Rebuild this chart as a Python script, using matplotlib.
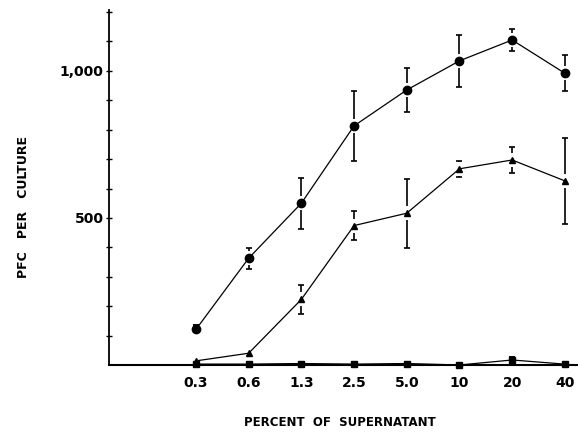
import numpy as np
from matplotlib import pyplot as plt

# percent of supernatant (categorical x)
doses = ["0.3", "0.6", "1.3", "2.5", "5.0", "10", "20", "40"]

# PFC per culture
circle_y = [121, 363, 550, 813, 935, 1034, 1105, 992]
circle_err = [15, 35, 87, 120, 75, 88, 38, 62]

tri_y = [14, 40, 223, 474, 516, 667, 697, 626]
tri_err = [0, 0, 50, 50, 117, 27, 43, 145]

square_y = [3, 3, 5, 3, 5, 0, 17, 3]
square_err = [0, 0, 0, 0, 0, 0, 10, 0]

plt.rcParams['font.family'] = ['DejaVu Sans']
plt.rcParams['font.weight'] = 'bold'

fig = plt.figure(figsize=(5.78, 4.34), dpi=100)
ax = fig.add_axes([0.1886, 0.159, 0.8114, 0.818])

x = np.arange(len(doses))
gap = 24  # blank space between marker and error bar


def split_errbar(ax, x, y, err):
    # error bars drawn as two stubs, leaving a gap around the marker
    for xi, yi, ei in zip(x, y, err):
        if ei <= gap:
            if ei > 0:
                ax.plot([xi, xi], [yi + ei, yi + ei], marker='_', color='k',
                        ms=4, mew=1.2, clip_on=False)
            continue
        ax.vlines(xi, yi + gap, yi + ei, color='k', lw=1.2, clip_on=False)
        ax.vlines(xi, yi - ei, yi - gap, color='k', lw=1.2, clip_on=False)
        ax.plot([xi, xi], [yi + ei, yi - ei], ls='none', marker='_', color='k',
                ms=4, mew=1.2, clip_on=False)


ax.plot(x, circle_y, '-', color='k', lw=0.9, marker='o', ms=6, clip_on=False)
split_errbar(ax, x, circle_y, circle_err)

ax.plot(x, tri_y, '-', color='k', lw=0.9, marker='^', ms=5, clip_on=False)
split_errbar(ax, x, tri_y, tri_err)

ax.plot(x, square_y, '-', color='k', lw=0.9, marker='s', ms=4, clip_on=False)
split_errbar(ax, x, square_y, square_err)

ax.set_xlim(-1.65, 7.25)
ax.set_ylim(0, 1207)

ax.spines['top'].set_visible(False)
ax.spines['right'].set_visible(False)
ax.spines['left'].set_linewidth(1.3)
ax.spines['bottom'].set_linewidth(1.5)

ax.set_xticks(x)
ax.set_xticklabels(doses, fontsize=10, fontweight='bold')
ax.tick_params(axis='x', length=0, pad=8)

ax.set_yticks([500, 1000])
ax.set_yticklabels(["500", "1,000"], fontsize=10, fontweight='bold')
ax.set_yticks(np.arange(100, 1201, 100), minor=True)
ax.tick_params(axis='y', which='both', direction='inout', length=4, width=1, pad=2)

fig.text(24 / 578, 0.523, "PFC   PER   CULTURE", rotation=90, ha='center',
         va='center', fontsize=9, fontweight='bold')
fig.text(340 / 578, 1 - 423 / 434, "PERCENT  OF  SUPERNATANT", ha='center',
         va='center', fontsize=8.5, fontweight='bold')

fig.savefig("out.png", dpi=100)
